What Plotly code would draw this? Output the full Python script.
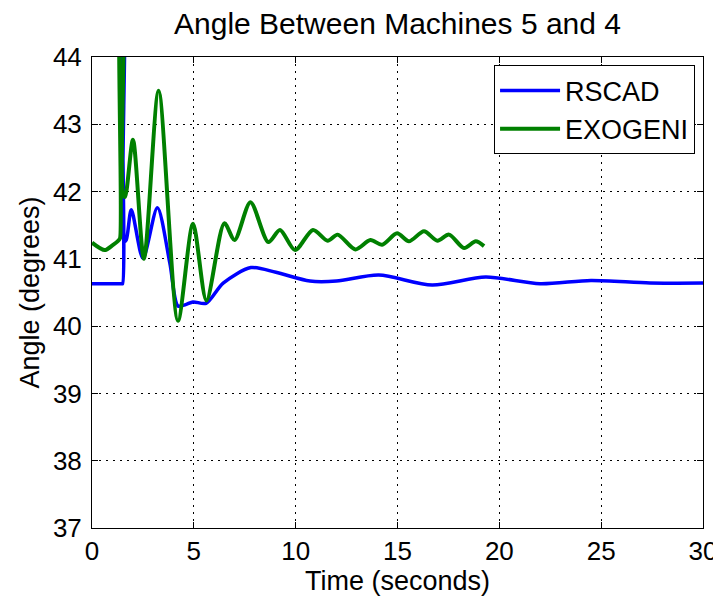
import plotly.graph_objects as go

# RSCAD series (time s, angle deg)
rscad_t = [0.0, 1.0, 1.45, 1.50, 1.51, 1.56, 1.58, 1.68, 1.93, 2.50, 3.21, 3.82, 4.22, 4.60,
           4.96, 5.60, 6.44, 7.80, 9.03, 10.70, 12.00, 14.08, 16.70, 19.33, 22.00, 24.50,
           27.40, 30.0]
rscad_y = [40.63, 40.63, 40.63, 40.63, 45.0, 45.0, 41.26, 41.28, 41.73, 41.01, 41.76, 40.94,
           40.30, 40.32, 40.36, 40.34, 40.64, 40.87, 40.80, 40.67, 40.67, 40.76, 40.61, 40.73,
           40.63, 40.68, 40.64, 40.64]

# EXOGENI series
exo_t = [0.0, 0.62, 1.00, 1.32, 1.38, 1.42, 1.50, 1.52, 1.62, 2.01, 2.55, 3.27, 4.22, 4.96,
         5.62, 6.50, 7.00, 7.78, 8.66, 9.23, 9.97, 10.85, 11.57, 12.06, 12.93, 13.67, 14.24,
         14.98, 15.56, 16.30, 16.96, 17.53, 18.27, 18.84, 19.25]
exo_y = [41.24, 41.13, 41.20, 41.28, 41.31, 45.0, 45.0, 41.95, 41.92, 42.77, 41.00, 43.50,
         40.08, 41.52, 40.38, 41.53, 41.28, 41.84, 41.25, 41.43, 41.13, 41.43, 41.27, 41.36,
         41.14, 41.28, 41.21, 41.38, 41.26, 41.41, 41.27, 41.36, 41.16, 41.26, 41.19]

x_ticks = [0, 5, 10, 15, 20, 25, 30]
y_ticks = [37, 38, 39, 40, 41, 42, 43, 44]

FONT = "Liberation Sans, Arial, sans-serif"

fig = go.Figure()
fig.add_trace(go.Scatter(x=rscad_t, y=rscad_y, mode="lines", name="RSCAD",
                         line=dict(color="#0000FF", width=3.5, shape="spline", smoothing=0.8)))
fig.add_trace(go.Scatter(x=exo_t, y=exo_y, mode="lines", name="EXOGENI",
                         line=dict(color="#008000", width=4, shape="spline", smoothing=0.8)))

axis_common = dict(
    showline=True, linecolor="black", linewidth=1, mirror="allticks",
    ticks="inside", ticklen=6, tickcolor="black",
    showgrid=True, gridcolor="black", gridwidth=1, griddash="2px,5px",
    zeroline=False, automargin=False,
    tickfont=dict(family=FONT, size=26, color="black"),
)

fig.update_xaxes(range=[0, 30], tickvals=x_ticks, ticktext=[str(v) for v in x_ticks],
                 title=dict(text="Time (seconds)", font=dict(family=FONT, size=27, color="black"),
                            standoff=0),
                 ticklabelstandoff=0, **axis_common)
fig.update_yaxes(range=[37, 44], tickvals=y_ticks, ticktext=[str(v) for v in y_ticks],
                 title=dict(text="Angle (degrees)", font=dict(family=FONT, size=27, color="black"),
                            standoff=5),
                 ticklabelstandoff=4, **axis_common)

# page body has an 8px margin: figure is sized to fill the rest of the 721x596 window
fig.update_layout(
    width=713, height=588,
    margin=dict(l=84, r=18, t=49, b=68),
    paper_bgcolor="white", plot_bgcolor="white",
    title=dict(text="Angle Between Machines 5 and 4", x=0.5, xref="paper",
               y=1 - 15 / 588, yref="container", yanchor="middle", xanchor="center",
               font=dict(family=FONT, size=30, color="black")),
    legend=dict(x=0.987, y=0.982, xanchor="right", yanchor="top",
                bordercolor="black", borderwidth=1, bgcolor="white",
                font=dict(family=FONT, size=27, color="black"),
                itemwidth=60, tracegroupgap=0),
    showlegend=True,
)

fig.write_html("out.html")
